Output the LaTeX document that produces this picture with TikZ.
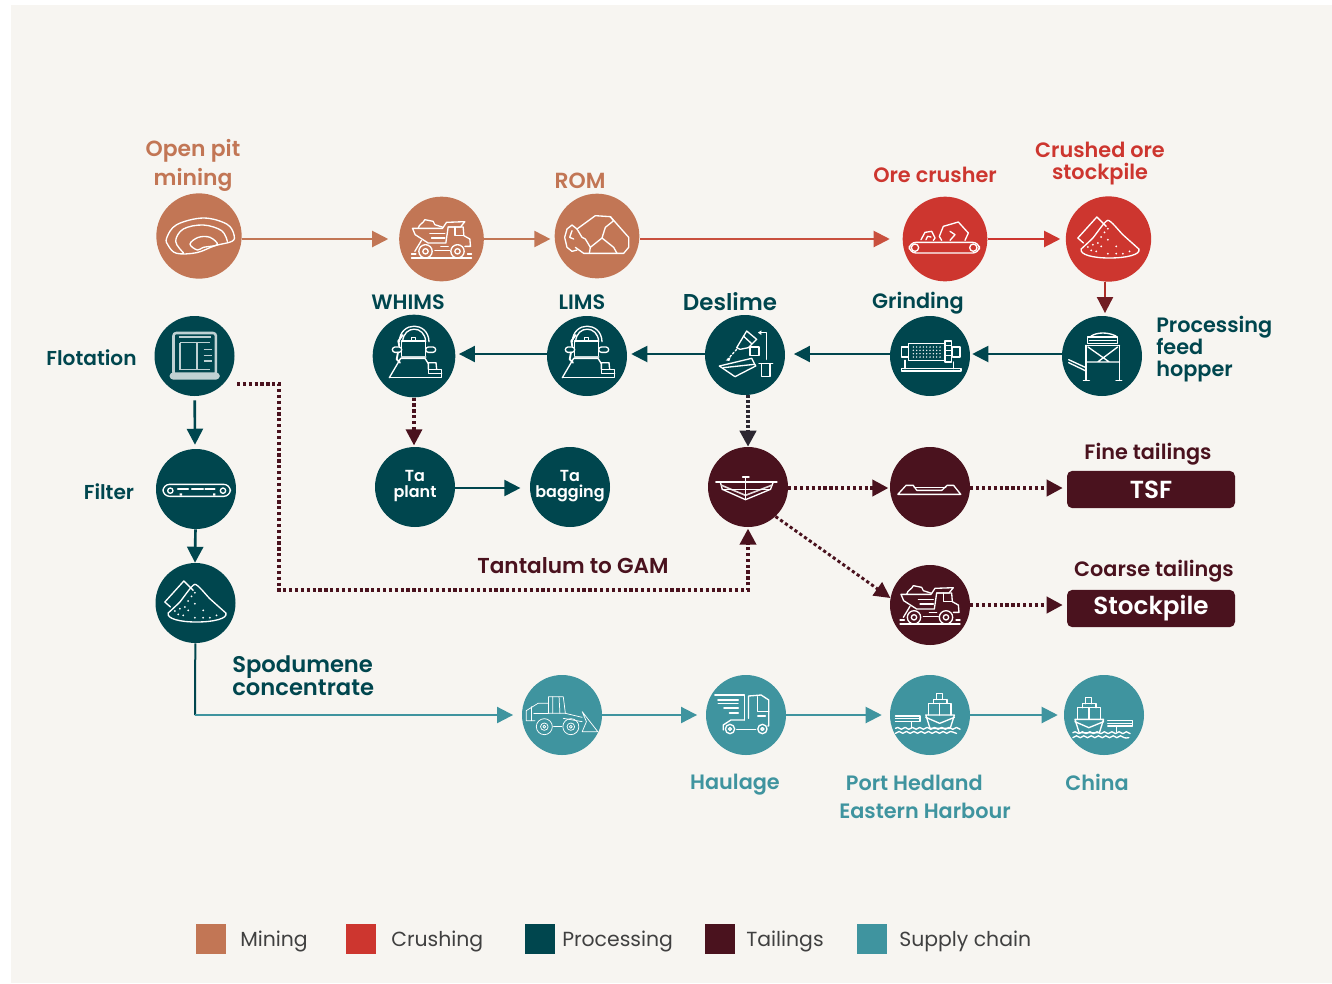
\documentclass[tikz,border=0pt]{standalone}
\usepackage{fontspec}
\setmainfont{Poppins}[BoldFont={Poppins SemiBold}]
\usetikzlibrary{arrows.meta,decorations.pathmorphing}
\definecolor{bgc}{HTML}{F7F5F1}
\definecolor{mining}{HTML}{C27655}
\definecolor{crushing}{HTML}{CD362F}
\definecolor{proc}{HTML}{00464E}
\definecolor{tail}{HTML}{4A121E}
\definecolor{supply}{HTML}{3F949F}
\newcommand{\zoomed}[3][1/3]{\begin{scope}[xscale=#1,yscale=1/3,shift={(#2,#3)}]}
\newcommand{\zoomedend}{\end{scope}}
\newcommand{\shipbody}{%
  \draw (1012,165)--(1080,165)--(1070,205)--(1022,205)--cycle;
  \draw (1018,165)--(1018,130)--(1072,130)--(1072,165);
  \draw (1030,130)--(1030,118)--(1062,118)--(1062,130);
  \draw (1037,118)--(1037,100)--(1052,100)--(1052,118);
  \draw (1012,172)--(1045,190)--(1080,172);
  \draw (1045,165)--(1045,130);
}
\tikzset{
  x=0.75pt,y=-0.75pt,
  >={Triangle[length=12pt,width=12pt]},
  stage/.style={circle,minimum size=60pt,inner sep=0pt,text=white,align=center,
    font=\bfseries\fontsize{12}{12.5}\selectfont},
  flow/.style={line width=1.5pt,->},
  dots/.style={line width=2.8pt,->,dash pattern=on 2.4pt off 2pt},
  lab/.style={inner sep=0pt,align=center,font=\bfseries\fontsize{15.6}{16}\selectfont},
  labwide/.style={inner sep=0pt,align=center,font=\bfseries\fontsize{16.4}{21.5}\selectfont},
  labbig/.style={inner sep=0pt,align=center,font=\bfseries\fontsize{16.2}{16.5}\selectfont},
  tag/.style={rounded corners=4pt,fill=tail,text=white,inner sep=0pt,minimum width=126pt,minimum height=28pt,
    font=\bfseries\fontsize{18.5}{20}\selectfont},
  key/.style={minimum size=22.5pt,inner sep=0pt},
  keytext/.style={inner sep=0pt,anchor=west,text=black!75,font=\fontsize{15.3}{16}\selectfont},
  ic/.style={draw=white,line width=1pt,line join=round,line cap=round},
  pit/.pic={\begin{scope}[ic]\zoomed{-177}{-316}
    \draw plot[smooth cycle,tension=.6] coordinates {(80,322)(110,282)(190,262)(260,280)(282,312)(276,332)(225,345)(170,366)(110,368)(85,345)};
    \draw plot[smooth,tension=.6] coordinates {(130,366)(107,332)(130,295)(190,283)(245,300)(262,332)};
    \draw plot[smooth cycle,tension=.6] coordinates {(150,340)(175,320)(210,320)(232,342)(190,350)(172,358)};
    \zoomedend\end{scope}},
  truckpic/.pic={\begin{scope}[ic]\zoomed{-905}{-328}
    \draw (818,296)--(908,296)--(920,278)--(975,276)--(962,292)--(925,292)--(918,340)--(865,340)--(826,315)--cycle;
    \draw (925,292)--(970,292)--(972,318)--(990,328)--(992,350)--(975,350);
    \draw (945,292)--(945,318)--(972,318);
    \draw (835,296)..controls (838,282) and (850,282) ..(855,270)--(880,275)--(885,285)--(910,293);
    \draw (845,332)--(825,365);
    \draw (870,312)--(915,312) (875,325)--(915,325);
    \draw (857,365) circle[radius=20] (857,365) circle[radius=8];
    \draw (953,365) circle[radius=20] (953,365) circle[radius=8];
    \draw (815,385)--(995,385) (815,373)--(828,373) (983,373)--(995,373) (885,363)--(930,363) (903,350)--(925,350);
    \zoomedend\end{scope}},
  rockpic/.pic={\begin{scope}[ic]\zoomed{-1370}{-316}
    \draw (1310,295)--(1365,255)--(1410,258)--(1465,320)--(1465,350)--(1450,368)--(1330,368)--(1305,350);
    \draw (1410,258)--(1420,270)--(1395,290)--(1385,322)--(1350,350)--(1347,368);
    \draw (1385,322)--(1420,350)--(1430,368);
    \draw (1310,295)--(1325,320)--(1335,325)--(1350,350);
    \draw (1310,295)--(1295,283)--(1280,295)--(1273,320)--(1280,350)--(1295,362)--(1310,358);
    \draw (1295,300)--(1288,320)--(1300,325);
    \zoomedend\end{scope}},
  crushpic/.pic={\begin{scope}[ic]\zoomed{-255}{-328}
    \draw[rounded corners=5pt] (148,338) rectangle (358,370);
    \draw (165,354) circle[radius=11] (340,354) circle[radius=11];
    \draw (245,332)--(238,320)--(250,290)--(295,277)--(325,310)--(315,332);
    \draw (270,332)--(285,315)--(270,305);
    \draw (183,330)--(195,308)--(215,305)--(225,325)--(220,332);
    \draw (198,330)--(203,320)--(213,322);
    \zoomedend\end{scope}},
  pilepic/.pic={\begin{scope}[ic]\zoomed{-747}{-328}
    \draw plot[smooth,tension=.35] coordinates {(665,358)(700,325)(745,272)(790,315)(838,358)};
    \draw (665,358)..controls (660,375) and (700,385)..(750,385)..controls (800,385) and (845,375)..(838,358);
    \draw (672,340)--(655,325)--(712,262)--(740,290);
    \foreach \p in {(685,352),(695,362),(715,340),(725,350),(710,365),(745,330),(770,350),(745,372),(790,372),(770,372),(700,345),(735,308),(745,297),(725,322),(810,365)}
      \fill[white] \p circle[radius=3];
    \zoomedend\end{scope}},
  hopperpic/.pic={\begin{scope}[ic]\zoomed{-728}{-677}
    \draw (685,640) rectangle (775,620) (690,630)--(770,630);
    \draw (695,617)..controls (715,605) and (745,605)..(770,617);
    \draw (680,645)--(780,645) (680,645)--(680,750) (780,645)--(780,750);
    \draw (680,695)--(780,695) (686,650)--(750,695) (775,650)--(715,695);
    \draw (628,688)--(680,712) (628,697)--(680,722);
    \draw (672,750)--(690,750) (770,750)--(787,750);
    \zoomedend\end{scope}},
  grindpic/.pic={\begin{scope}[ic]\zoomed{-210}{-677}
    \draw (145,640) rectangle (255,690);
    \foreach \yy in {650,660,670,680} \foreach \xx in {160,170,...,240}
      \fill[white] (\xx,\yy) circle[radius=2.3];
    \draw (125,650) rectangle (145,680);
    \draw (255,632) rectangle (275,695);
    \draw (258,645)--(272,645) (258,660)--(272,660) (258,675)--(272,675);
    \draw (277,650) rectangle (300,680);
    \draw (125,715) rectangle (303,722);
    \draw (135,690)--(135,715) (280,695)--(280,715);
    \zoomedend\end{scope}},
  magpic/.pic={\begin{scope}[ic]\zoomed{-162}{-215}
    \draw (118,172)..controls (120,110) and (205,110)..(207,172);
    \draw (128,172)..controls (130,122) and (195,122)..(197,172);
    \draw (125,170) rectangle (197,217);
    \draw[white!80!proc,line width=1.3pt] (125,217)--(197,217);
    \draw (155,170) rectangle (166,160);
    \draw[rounded corners=2pt] (97,188) rectangle (125,204);
    \draw[rounded corners=2pt] (197,188) rectangle (227,204);
    \draw[line width=1.4pt] (128,152)--(115,170)--(118,186) (114,204)--(110,225)--(120,235);
    \draw (88,280)--(122,222)--(195,222)--(205,238);
    \draw (88,280)--(245,280)--(245,255)--(205,255)--(205,268)--(245,268);
    \draw (205,255)--(205,235)--(228,235)--(230,255);
    \zoomedend\end{scope}},
  deslimepic/.pic={\begin{scope}[ic]\zoomed{-1155}{-212}
    \draw (1160,140)--(1190,165)--(1165,190)--(1140,195)--(1130,190)--(1145,165)--cycle;
    \draw (1150,155)--(1175,178);
    \draw[dash pattern=on 1.5pt off 1.5pt] (1130,195)--(1103,225);
    \fill[white] (1097,228)--(1112,218)--(1108,230)--cycle;
    \draw (1170,188) rectangle (1197,214);
    \draw (1220,225)--(1220,145)--(1197,145);
    \fill[white] (1194,145)--(1204,138)--(1204,152)--cycle;
    \draw (1078,245)--(1175,222)--(1187,245)--(1125,277)--cycle;
    \draw (1090,250)--(1183,240);
    \draw (1197,237)--(1238,237);
    \draw (1205,237) rectangle (1230,277);
    \zoomedend\end{scope}},
  flotpic/.pic={\begin{scope}[draw=white!75!proc,line width=1.9pt,line join=round]\zoomed{-463}{-137}
    \draw[rounded corners=2pt] (400,68) rectangle (527,195);
    \draw[line width=1pt] (415,80)--(513,80);
    \draw[line width=1.2pt] (420,97)--(510,97) (420,97)--(420,178);
    \draw (470,97)--(470,178);
    \draw[line width=1.1pt] (490,118)--(514,118) (490,135)--(514,135) (490,152)--(514,152);
    \draw[line width=1.1pt] (420,178)--(510,178);
    \draw[rounded corners=2pt,fill=white!75!proc] (392,190) rectangle (535,204);
    \zoomedend\end{scope}},
  beltpic/.pic={\begin{scope}[ic]\zoomed{-469}{-536}
    \draw[rounded corners=5pt] (370,522) rectangle (572,558);
    \draw (392,541) circle[radius=8] (550,541) circle[radius=8];
    \draw[line width=1.6pt] (415,535)--(445,535) (457,535)--(490,535) (497,535)--(525,535);
    \fill[white] (420,549) rectangle (427,556) (520,549) rectangle (527,556);
    \zoomedend\end{scope}},
  thickpic/.pic={\begin{scope}[ic]\zoomed[1/2.8]{-162}{-170}
    \draw (72,155)--(243,155);
    \draw (85,157)--(90,177)--(155,208)--(225,177)--(232,157);
    \draw[line width=1.2pt,white!85!tail] (88,165)--(155,195)--(228,165);
    \draw (90,177)--(225,177);
    \draw (155,140)--(155,205) (147,140)--(165,140);
    \zoomedend\end{scope}},
  damtwo/.pic={\begin{scope}[ic]\zoomed[1/2.8]{-672}{-170}
    \draw (582,192)--(758,192)--(738,165)--(720,165)--(705,180)--(635,180)--(625,165)--(605,165)--cycle;
    \draw (628,172)--(716,172);
    \zoomedend\end{scope}},
  loaderpic/.pic={\begin{scope}[ic,line width=0.55pt]\zoomed[1/2.375]{-147}{-165}
    \draw (105,200) ellipse[x radius=19,y radius=24] (105,200) ellipse[x radius=9,y radius=11] (105,200) ellipse[x radius=3.5,y radius=4.5];
    \draw (168,200) ellipse[x radius=19,y radius=24] (168,200) ellipse[x radius=9,y radius=11] (168,200) ellipse[x radius=3.5,y radius=4.5];
    \draw (115,160)--(115,110)--(150,110)--(155,160)--cycle;
    \draw (125,110)--(125,160) (140,110)--(142,160);
    \draw (62,182)--(62,152)--(90,130)--(115,130) (62,182)--(83,182);
    \draw (75,140)--(75,182) (127,200)--(146,200) (80,160)--(115,160);
    \draw (155,160)--(195,172) (150,175)--(195,185);
    \draw (195,155)--(232,215)--(195,215)--(205,185)--cycle;
    \zoomedend\end{scope}},
  haulpic/.pic={\begin{scope}[ic]\zoomed[1/2.375]{-584}{-165}
    \draw (510,105)--(580,105)--(580,180);
    \draw (590,175)--(590,108)--(620,105)--(638,120)--(638,198)--(636,198);
    \draw (612,110)--(612,155)--(638,155);
    \draw (580,180)--(548,180)--(530,195)--(530,210);
    \draw[line width=1.6pt] (518,120)--(565,120) (532,143)--(565,143) (545,158)--(565,158);
    \draw (518,130)--(565,130);
    \draw (546,207) ellipse[x radius=11,y radius=14] (546,207) ellipse[x radius=3.6,y radius=4.5];
    \draw (623,207) ellipse[x radius=11,y radius=14] (623,207) ellipse[x radius=3.6,y radius=4.5];
    \draw (562,208)--(607,208);
    \draw (612,168)--(630,168);
    \zoomedend\end{scope}},
  portpic/.pic={\begin{scope}[ic]\zoomed[1/2.375]{-1022}{-165}
    \shipbody
    \draw (940,168)--(998,168)--(998,185)--(940,185) (978,185)--(978,203) (940,176)--(998,176);
    \draw[decorate,decoration={snake,segment length=5.5pt,amplitude=.7pt}] (940,205)--(1085,205) (940,220)--(1085,220);
    \zoomedend\end{scope}},
  chinapic/.pic={\begin{scope}[ic]\zoomed[1/2.375]{-1436}{-165}
    \begin{scope}[shift={(355,13)}]\shipbody\end{scope}
    \draw (1445,182)--(1503,182)--(1503,198)--(1445,198) (1465,198)--(1465,215) (1445,190)--(1503,190);
    \draw[decorate,decoration={snake,segment length=5.5pt,amplitude=.7pt}] (1362,218)--(1495,218) (1362,233)--(1495,233);
    \zoomedend\end{scope}},
}
\begin{document}
\begin{tikzpicture}
\useasboundingbox (0,0) rectangle (1332,983);
\fill[white] (0,0) rectangle (1332,983);
\fill[bgc] (11,5) rectangle (1332,983);
% stages
\node[stage,fill=mining,minimum size=64pt] (open) at (199,236) {};
\node[stage,fill=mining,minimum size=63.5pt] (truck) at (441.5,239) {};
\node[stage,fill=mining,minimum size=63.5pt] (rom) at (597,236) {};
\node[stage,fill=crushing,minimum size=63.5pt] (crusher) at (945,239) {};
\node[stage,fill=crushing,minimum size=64pt] (pile) at (1108.5,239) {};
\node[stage,fill=proc] (hopper) at (1102,356) {};
\node[stage,fill=proc] (grinding) at (930,356) {};
\node[stage,fill=proc] (deslime) at (745,355) {};
\node[stage,fill=proc] (lims) at (587,356) {};
\node[stage,fill=proc,minimum size=62pt] (whims) at (414,356) {};
\node[stage,fill=proc] (flot) at (194.5,356) {};
\node[stage,fill=proc] (filter) at (196,489) {};
\node[stage,fill=proc] (conc) at (195.5,603) {};
\node[stage,fill=proc] (taplant) at (415,487) {Ta\\plant\\[-8pt]\mbox{}};
\node[stage,fill=proc] (tabag) at (570,487) {Ta\\bagging\\[-8pt]\mbox{}};
\node[stage,fill=tail] (thick) at (748,487) {};
\node[stage,fill=tail] (dam) at (930,487) {};
\node[stage,fill=tail] (tailtruck) at (930,605) {};
\node[stage,fill=supply] (loader) at (562,715) {};
\node[stage,fill=supply] (haul) at (746,715) {};
\node[stage,fill=supply] (port) at (930,715) {};
\node[stage,fill=supply] (china) at (1104,715) {};
\node[tag] (tsf) at (1151,489.5) {TSF};
\node[tag] (stock) at (1151,608.5) {\raisebox{-.7pt}{Stockpile}};
% icons
\pic at (open) {pit};
\pic at (truck) {truckpic};
\pic at (rom) {rockpic};
\pic at (crusher) {crushpic};
\pic at (pile) {pilepic};
\pic at (hopper) {hopperpic};
\pic at (grinding) {grindpic};
\pic at (deslime) {deslimepic};
\pic at (lims) {magpic};
\pic at (whims) {magpic};
\pic at (flot) {flotpic};
\pic at (filter) {beltpic};
\pic at (conc) {pilepic};
\pic at (thick) {thickpic};
\pic at (dam) {damtwo};
\pic at (tailtruck) {truckpic};
\pic at (loader) {loaderpic};
\pic at (haul) {haulpic};
\pic at (port) {portpic};
\pic at (china) {chinapic};
% connectors
\draw[flow,mining,shorten >=8pt] (open.east |- truck) -- (truck);
\draw[flow,mining,shorten >=3pt] (truck) -- (rom.west |- truck);
\draw[flow,crushing!60!mining,shorten >=9.5pt] (rom.east |- crusher) -- (crusher);
\draw[flow,crushing,shorten >=4pt] (crusher) -- (pile);
\draw[flow,crushing!85!black,-{Triangle[length=12pt,width=12pt,color=tail!70!crushing]},shorten >=2pt] (pile.south -| 1105,0) -- (1105,0 |- hopper.north);
\draw[flow,proc,shorten >=1.5pt] (hopper.west |- 0,354) -- (grinding.east |- 0,354);
\draw[flow,proc,shorten >=6.5pt] (grinding.west |- 0,354) -- (deslime.east |- 0,354);
\draw[flow,proc,shorten >=3pt] (deslime.west |- 0,354) -- (lims.east |- 0,354);
\draw[flow,proc,shorten >=2.5pt] (lims.west |- 0,354) -- (whims.east |- 0,354);
\draw[dots,tail,line width=2.4pt,shorten >=1pt] (whims) -- (414,0 |- taplant.north);
\draw[dots,proc!40!tail,line width=3.3pt,dash pattern=on 2.3pt off 1.4pt] (748,0 |- deslime.south) -- (thick);
\coordinate (flotout) at (237,384);
\coordinate (b1) at (279,384);
\coordinate (b2) at (279,590);
\coordinate (b3) at (748,590);
\draw[dots,tail,shorten >=1pt] (flotout) -- (b1) -- (b2) -- (b3) -- (thick);
\draw[flow,proc,line width=2pt,shorten <=3pt,shorten >=3pt] (flot) -- (195,0 |- filter.north);
\draw[flow,proc,line width=2pt,shorten >=0pt] (filter) -- (195,0 |- conc.north);
\coordinate (corner) at (195,715);
\draw[line width=1.5pt,proc] (conc) -- (corner);
\draw[flow,supply,shorten >=6.5pt] (corner) -- (loader);
\draw[flow,proc,shorten >=7pt] (taplant.east |- 0,488) -- (tabag.west |- 0,488);
\draw[dots,tail,shorten >=1pt] (thick.east |- 0,488) -- (dam.west |- 0,488);
\draw[dots,tail,shorten >=3pt] (dam.east |- 0,488) -- (tsf.west |- 0,488);
\draw[dots,tail,line width=2.2pt,shorten >=0pt] (thick.-47) -- (tailtruck.170);
\draw[dots,tail,shorten >=3pt] (tailtruck) -- (stock.west |- tailtruck);
\draw[flow,supply,shorten >=6.5pt] (loader) -- (haul);
\draw[flow,supply,shorten >=6pt] (haul) -- (port);
\draw[flow,supply,shorten >=4.5pt] (port) -- (china);
% labels
\node[labwide,text=mining] (lopen) at (193,165.5) {Open pit\\mining};
\node[labwide,text=mining] (lrom) at (580,181) {ROM};
\node[lab,text=crushing] (lcrusher) at (935,174.5) {Ore crusher};
\node[lab,text=crushing] (lpile) at (1100,163.5) {Crushed ore\\[.5pt]stockpile};
\node[lab,text=proc] (lgrind) at (918,303) {Grinding};
\node[lab,text=proc,align=left,anchor=west] (lhopper) at (1156,349) {Processing\\[-1pt]feed\\[.8pt]hopper};
\node[lab,text=proc,font=\bfseries\fontsize{17.2}{18}\selectfont] (ldeslime) at (730,302) {Deslime};
\node[lab,text=proc] (llims) at (582,302) {LIMS};
\node[lab,text=proc] (lwhims) at (408,302) {WHIMS};
\node[lab,text=proc,font=\bfseries\fontsize{15.1}{16}\selectfont] (lflot) at (91.5,358) {Flotation};
\node[lab,text=proc,font=\bfseries\fontsize{15.1}{16}\selectfont] (lfilter) at (109,492) {Filter};
\node[labbig,text=tail] (lgam) at (573,565.5) {Tantalum to GAM};
\node[lab,text=tail] (lfine) at (1148,454) {Fine tailings};
\node[lab,text=tail] (lcoarse) at (1154,571) {Coarse tailings};
\node[labwide,text=proc,align=left,anchor=west,font=\bfseries\fontsize{17}{17.5}\selectfont] (lspod) at (232,676) {Spodumene\\concentrate};
\node[lab,text=supply] (lhaul) at (735,785) {Haulage};
\node[lab,text=supply,font=\bfseries\fontsize{15.6}{20.5}\selectfont] (lport) at (925,797) {Port Hedland\hspace*{16pt}\\Eastern Harbour};
\node[lab,text=supply] (lchina) at (1097,782) {China};
% legend
\node[key,fill=mining] (k1) at (211,939) {};
\node[key,fill=crushing] (k2) at (361,939) {};
\node[key,fill=proc] (k3) at (540,939) {};
\node[key,fill=tail] (k4) at (720,939) {};
\node[key,fill=supply] (k5) at (872,939) {};
\node[keytext] (t1) at (240,941) {Mining};
\node[keytext] (t2) at (391,941) {Crushing};
\node[keytext] (t3) at (562,941) {Processing};
\node[keytext] (t4) at (746,941) {Tailings};
\node[keytext] (t5) at (899,941) {Supply chain};
\end{tikzpicture}
\end{document}
